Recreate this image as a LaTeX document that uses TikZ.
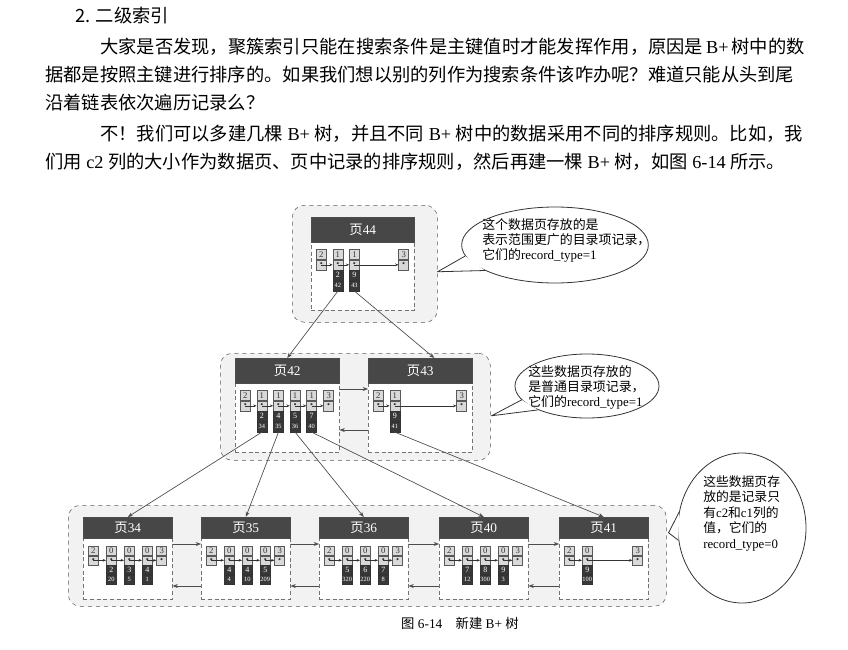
\documentclass[tikz,border=0pt]{standalone}
\usepackage{fontspec}
\setmainfont{Liberation Serif}
\newfontfamily\cjk{Noto Sans CJK SC}
\usetikzlibrary{positioning,calc,arrows.meta,shapes.geometric}

% stretchable glue between CJK characters, for the justified lines
\XeTeXinterchartokenstate=1
\XeTeXinterchartoks 1 1 = {\hskip0pt plus 3pt\relax}
\XeTeXinterchartoks 1 3 = {\hskip0pt plus 3pt\relax}
\XeTeXinterchartoks 3 1 = {\hskip0pt plus 3pt\relax}
\XeTeXinterchartoks 3 3 = {\hskip0pt plus 3pt\relax}

\tikzset{
  groupbox/.style={draw=black!65, dashed, rounded corners=9pt, fill=black!5, inner sep=0pt},
  pagebox/.style={draw=black!55, densely dashed, fill=white, inner sep=0pt},
  pagehead/.style={draw=black!70, fill=black!72, text=white, inner sep=0pt, font=\fontsize{10}{10}\selectfont},
  typecell/.style={draw=black!65, fill=black!15, inner sep=0pt, minimum width=7.5pt,
    minimum height={\cellht*0.75pt}, font=\fontsize{6.5}{6.5}\selectfont, text=black!80},
  keycell/.style={draw=black!80, fill=black!78, text=white, inner sep=0pt, minimum width=7.5pt,
    minimum height={\cellht*0.75pt}, font=\fontsize{6}{6}\selectfont},
  valcell/.style={keycell, font=\fontsize{4.8}{4.8}\selectfont},
  link/.style={-{Stealth[length=2.5pt,width=2pt]}, black!80, line width=0.4pt},
  pagelink/.style={-{Stealth[length=4pt,width=3pt]}, black!70, line width=0.5pt},
  bubble/.style={ellipse, draw=black!80, fill=white, inner sep=0pt, line width=0.6pt},
  bubbletail/.style={draw=black!80, fill=white, line width=0.6pt, line join=round},
  notetext/.style={align=left, inner sep=0pt, font=\fontsize{9.7}{11.3}\selectfont},
  bodytext/.style={inner sep=0pt, anchor=west, font=\fontsize{13.7}{16}\selectfont}
}

% #1 name, #2 left, #3 top, #4 width, #5 height, #6 page number, #7 records type/key/value
\newcommand\datapage[7]{%
  \node[pagebox, minimum width={#4*0.75pt}, minimum height={#5*0.75pt}, anchor=north west] (#1) at (#2,#3) {};
  \node[pagehead, minimum width={#4*0.75pt}, minimum height={\headht*0.75pt}, anchor=north west] (#1-h) at (#2,#3) {{\cjk 页}#6};
  \node[typecell, anchor=north west] (#1-inf) at ({#2+5},{#3+\headht+\celloff}) {2};
  \node[typecell, below=0pt of #1-inf] (#1-infd) {\textbullet};
  \node[typecell, anchor=north east] (#1-sup) at ({#2+#4-5},{#3+\headht+\celloff}) {3};
  \node[typecell, below=0pt of #1-sup] (#1-supd) {\textbullet};
  \xdef\prevcell{#1-infd}
  \foreach \t/\k/\v [count=\i] in {#7} {
    \node[typecell, anchor=north west] (#1-r\i) at ({#2+5+\i*\recstep},{#3+\headht+\celloff}) {\t};
    \node[typecell, below=0pt of #1-r\i] (#1-d\i) {\textbullet};
    \node[keycell, below=0pt of #1-d\i] (#1-k\i) {\k};
    \node[valcell, below=0pt of #1-k\i] (#1-v\i) {\v};
    \draw[link] (\prevcell.center) -- (#1-d\i.west);
    \xdef\prevcell{#1-d\i}
  }
  \draw[link] (\prevcell.center) -- (#1-supd.west);
}

\begin{document}
\begin{tikzpicture}[x=0.75pt, y=-0.75pt]
  \fill[white] (0,0) rectangle (848,649);
  \useasboundingbox (0,0) rectangle (848,649);

  % text above the figure
  \node[bodytext] (head) at (75,16) {\cjk 2. 二级索引};
  \node[bodytext] (l1) at (100,47) {\hbox to 527pt{{\cjk 大家是否发现，聚簇索引只能在搜索条件是主键值时才能发挥作用，原因是} B+ {\cjk 树中的数}}};
  \node[bodytext] (l2) at (45,75) {\hbox to 568pt{\cjk 据都是按照主键进行排序的。如果我们想以别的列作为搜索条件该咋办呢？难道只能从头到尾}};
  \node[bodytext] (l3) at (45,103) {\cjk 沿着链表依次遍历记录么？};
  \node[bodytext] (l4) at (100,134) {\hbox to 527pt{{\cjk 不！我们可以多建几棵} B+ {\cjk 树，并且不同} B+ {\cjk 树中的数据采用不同的排序规则。比如，我}}};
  \node[bodytext] (l5) at (45,162) {{\cjk 们用} c2 {\cjk 列的大小作为数据页、页中记录的排序规则，然后再建一棵} B+ {\cjk 树，如图} 6-14 {\cjk 所示。}};

  % levels of the tree
  \node[groupbox, minimum width=108.75pt, minimum height=87.75pt, anchor=north west] (g44) at (292,205) {};
  \node[groupbox, minimum width=202.5pt, minimum height=80.25pt, anchor=north west] (g42) at (220,353) {};
  \node[groupbox, minimum width=448.5pt, minimum height=75.75pt, anchor=north west] (g34) at (68,505) {};

  \def\headht{25}\def\celloff{7}\def\cellht{10}\def\recstep{16.6}
  \datapage{p44}{311}{217}{103}{93}{44}{1/2/42, 1/9/43}
  \datapage{p42}{235}{358}{104}{94}{42}{1/2/34, 1/4/35, 1/5/36, 1/7/40}
  \datapage{p43}{368}{358}{104}{94}{43}{1/9/41}

  \def\headht{21}\def\celloff{8}\def\cellht{9}\def\recstep{18}
  \datapage{p34}{83}{517}{89}{82}{34}{0/2/20, 0/3/5, 0/4/1}
  \datapage{p35}{201}{517}{89}{82}{35}{0/4/4, 0/4/10, 0/5/209}
  \datapage{p36}{319}{517}{89}{82}{36}{0/5/320, 0/6/220, 0/7/8}
  \datapage{p40}{439}{517}{89}{82}{40}{0/7/12, 0/8/300, 0/9/3}
  \datapage{p41}{559}{517}{89}{82}{41}{0/9/100}

  % links between neighbour pages
  \draw[pagelink] ($(p42.north east)+(0,31)$) -- ($(p43.north west)+(0,31)$);
  \draw[pagelink] ($(p43.north west)+(0,72)$) -- ($(p42.north east)+(0,72)$);
  \foreach \a/\b in {p34/p35, p35/p36, p36/p40, p40/p41} {
    \draw[pagelink] ($(\a.north east)+(0,27)$) -- ($(\b.north west)+(0,27)$);
    \draw[pagelink] ($(\b.north west)+(0,69)$) -- ($(\a.north east)+(0,69)$);
  }

  % directory records to child pages
  \draw[pagelink] (p44-v1.south) -- (p42-h.north);
  \draw[pagelink] (p44-v2.south) -- ($(p43-h.north)+(14,0)$);
  \foreach \r/\p in {1/p34, 2/p35, 3/p36, 4/p40}
    \draw[pagelink] (p42-v\r.south) -- (\p-h.north);
  \draw[pagelink] (p43-v1.south) -- (p41-h.north);

  % callouts
  \node[bubble, minimum width=140pt, minimum height=57pt] (c1) at (555,245) {};
  \coordinate (t1) at ($(g44.east)+(0,8)$);
  \draw[bubbletail] (c1.187) -- (t1) -- (c1.200);
  \node[notetext, anchor=north west] (c1-txt) at (482,218)
    {{\cjk 这个数据页存放的是}\\{\cjk 表示范围更广的目录项记录，}\\{\cjk 它们的}record\_type=1};

  \node[bubble, minimum width=108pt, minimum height=48pt] (c2) at (587,386) {};
  \coordinate (t2) at ($(g42.east)+(1,9)$);
  \draw[bubbletail] (c2.192) -- (t2) -- (c2.206);
  \node[notetext, anchor=north west] (c2-txt) at (528,365)
    {{\cjk 这些数据页存放的}\\{\cjk 是普通目录项记录，}\\{\cjk 它们的}record\_type=1};

  \node[bubble, minimum width=96pt, minimum height=112.5pt] (c3) at (742,528) {};
  \coordinate (t3) at ($(g34.east)+(2,-23)$);
  \draw[bubbletail] (c3.166) -- (t3) -- (c3.191);
  \node[notetext, anchor=north west, font=\fontsize{9.6}{11.7}\selectfont] (c3-txt) at (703,475)
    {{\cjk 这些数据页存}\\{\cjk 放的是记录只}\\{\cjk 有}c2{\cjk 和}c1{\cjk 列的}\\{\cjk 值，它们的}\\record\_type=0};

  % caption
  \node[font=\fontsize{10}{10}\selectfont] (cap) at (460,623) {{\cjk 图} 6-14{\cjk 　新建} B+ {\cjk 树}};
\end{tikzpicture}
\end{document}
